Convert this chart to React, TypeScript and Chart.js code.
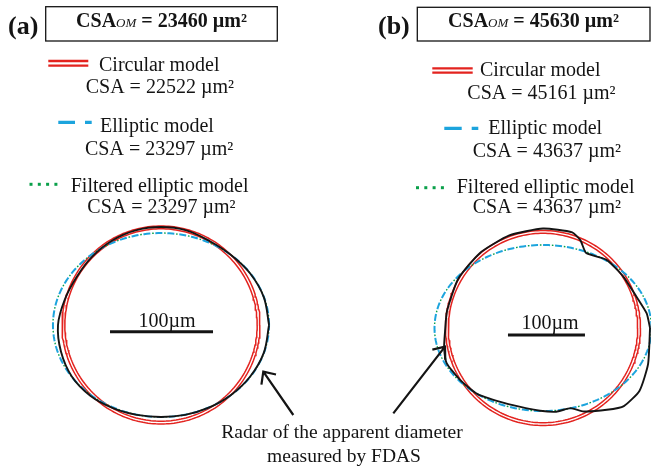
import React, { useEffect, useRef } from "react";
import { Chart, registerables } from "chart.js";
Chart.register(...registerables);

// ---------- DATA (µm, relative to each panel's model centre) ----------
const panelLabels = ["(a)", "(b)"];
const csaOM = [23460, 45630];
const circularCSA = [22522, 45161];
const ellipticCSA = [23297, 43637];
const filteredCSA = [23297, 43637];

const circleRadiusA = 96.1;
const ellipseRadiiA = [104.9, 89.3];
const fdasAnglesA = [0, 15, 30, 45, 60, 75, 90, 105, 120, 135, 150, 165, 180, 195, 210, 225, 240, 255, 270, 285, 300, 315, 330, 345];
const fdasRadiiA = [104.9, 103.4, 100.0, 96.1, 94.2, 95.1, 95.1, 95.1, 94.7, 94.2, 94.2, 96.6, 100.0, 100.5, 100.0, 97.1, 93.2, 90.3, 89.3, 90.3, 92.7, 96.1, 100.0, 103.4];

const circleRadiusB = 126.6;
const ellipseRadiiB = [140.9, 107.8];
const fdasAnglesB = [0, 8, 18, 33, 47, 60, 67, 73, 90, 110, 130, 150, 170, 182, 191, 200, 212, 225, 240, 254, 268, 279, 289, 296, 308, 316, 327, 341];
const fdasRadiiB = [139.0, 136.0, 128.3, 123.8, 121.0, 112.3, 124.0, 129.9, 129.2, 127.9, 127.3, 127.3, 126.6, 127.3, 130.8, 133.2, 127.1, 120.9, 110.8, 106.5, 107.5, 110.1, 110.0, 120.6, 134.8, 146.0, 149.5, 144.3];

const scaleBarUm = 100;
const scaleBarText = "100µm";
const annotationLines = ["Radar of the apparent diameter", "measured by FDAS"];

// ---------- LAYOUT ----------
const W = 651;
const H = 468;
const panels = [
  { ox: 161, oy: 325, k: 1.03, barX: 0.5, barY: -6.5, tension: 0.35 },
  { ox: 543, oy: 328, k: 0.77, barX: 4.5, barY: -9.1, tension: 0.18 },
];
const RED = "#e3231f";
const CYAN = "#1ca4dd";
const GREEN = "#0aa04a";
const BLACK = "#141414";
const SERIF = '"Liberation Serif", "DejaVu Serif", serif';

function circlePts(r: number, n = 240) {
  const pts = [];
  for (let i = 0; i <= n; i++) {
    const t = (i / n) * 2 * Math.PI;
    pts.push({ x: r * Math.cos(t), y: r * Math.sin(t) });
  }
  return pts;
}
function ellipsePts(rx: number, ry: number, n = 240) {
  const pts = [];
  for (let i = 0; i <= n; i++) {
    const t = (i / n) * 2 * Math.PI;
    pts.push({ x: rx * Math.cos(t), y: ry * Math.sin(t) });
  }
  return pts;
}
function polarPts(angles: number[], radii: number[]) {
  const pts = angles.map((a, i) => ({
    x: radii[i] * Math.cos((a * Math.PI) / 180),
    y: radii[i] * Math.sin((a * Math.PI) / 180),
  }));
  pts.push({ ...pts[0] });
  return pts;
}

function panelDatasets(p: number, r: number, e: number[], ang: number[], rad: number[]) {
  const xs = p === 0 ? "xa" : "xb";
  const ys = p === 0 ? "ya" : "yb";
  const k = panels[p].k;
  const common = { xAxisID: xs, yAxisID: ys, showLine: true, pointRadius: 0, fill: false };
  return [
    { ...common, data: polarPts(ang, rad), borderColor: BLACK, borderWidth: 1.9, tension: panels[p].tension, order: 0 },
    { ...common, data: ellipsePts(e[0], e[1]), borderColor: GREEN, borderWidth: 1.4, borderDash: [1.6, 10.4], borderDashOffset: -8.6, order: 1 },
    { ...common, data: ellipsePts(e[0], e[1]), borderColor: CYAN, borderWidth: 2, borderDash: [7, 5], order: 2 },
    { ...common, data: circlePts(r), borderColor: RED, borderWidth: 1.5, order: 3 },
    { ...common, data: circlePts(r - 2.8 / k), borderColor: RED, borderWidth: 1.5, order: 3 },
    {
      ...common,
      data: [
        { x: panels[p].barX - scaleBarUm / 2, y: panels[p].barY },
        { x: panels[p].barX + scaleBarUm / 2, y: panels[p].barY },
      ],
      borderColor: BLACK,
      borderWidth: 3,
      order: 0,
    },
  ];
}

function drawTitle(ctx: CanvasRenderingContext2D, cx: number, base: number, value: number) {
  const parts = [
    { t: "CSA", f: `bold 20px ${SERIF}` },
    { t: "OM", f: `italic 13px ${SERIF}` },
    { t: ` = ${value} µm²`, f: `bold 20px ${SERIF}` },
  ];
  let total = 0;
  const ws = parts.map((p) => {
    ctx.font = p.f;
    const w = ctx.measureText(p.t).width;
    total += w;
    return w;
  });
  let x = cx - total / 2;
  parts.forEach((p, i) => {
    ctx.font = p.f;
    ctx.fillText(p.t, x, base);
    x += ws[i];
  });
}

function arrow(ctx: CanvasRenderingContext2D, tx: number, ty: number, hx: number, hy: number, half: number) {
  ctx.beginPath();
  ctx.moveTo(tx, ty);
  ctx.lineTo(hx, hy);
  const a = Math.atan2(ty - hy, tx - hx);
  const L = 13;
  ctx.moveTo(hx + L * Math.cos(a - half), hy + L * Math.sin(a - half));
  ctx.lineTo(hx, hy);
  ctx.lineTo(hx + L * Math.cos(a + half), hy + L * Math.sin(a + half));
  ctx.stroke();
}

const textPlugin = {
  id: "figureText",
  afterDatasetsDraw(chart: any) {
    const ctx: CanvasRenderingContext2D = chart.ctx;
    ctx.save();
    ctx.fillStyle = BLACK;
    ctx.strokeStyle = BLACK;
    ctx.textBaseline = "alphabetic";
    ctx.textAlign = "left";

    // panel labels
    ctx.font = `bold 26px ${SERIF}`;
    ctx.fillText(panelLabels[0], 8, 34);
    ctx.fillText(panelLabels[1], 378, 34);

    // boxes
    ctx.lineWidth = 1.3;
    ctx.strokeRect(45.7, 6.7, 231.6, 34.3);
    ctx.strokeRect(417.3, 7.3, 232.7, 33.7);
    drawTitle(ctx, 161.5, 26.7, csaOM[0]);
    drawTitle(ctx, 533.5, 26.7, csaOM[1]);

    // legend glyphs
    const legend = [
      { red: [48.3, 88.3, 61, 65.7], cyan: [58.3, 75, 85, 91.7, 122.3], green: [29.5, 184.3] },
      { red: [432.3, 472.7, 68.3, 72.7], cyan: [444.3, 461.7, 471.7, 478.3, 128.3], green: [416, 187.7] },
    ];
    legend.forEach((g) => {
      ctx.strokeStyle = RED;
      ctx.lineWidth = 2.3;
      ctx.beginPath();
      ctx.moveTo(g.red[0], g.red[2]);
      ctx.lineTo(g.red[1], g.red[2]);
      ctx.moveTo(g.red[0], g.red[3]);
      ctx.lineTo(g.red[1], g.red[3]);
      ctx.stroke();
      ctx.strokeStyle = CYAN;
      ctx.lineWidth = 3.2;
      ctx.beginPath();
      ctx.moveTo(g.cyan[0], g.cyan[4]);
      ctx.lineTo(g.cyan[1], g.cyan[4]);
      ctx.moveTo(g.cyan[2], g.cyan[4]);
      ctx.lineTo(g.cyan[3], g.cyan[4]);
      ctx.stroke();
      ctx.fillStyle = GREEN;
      for (let i = 0; i < 4; i++) ctx.fillRect(g.green[0] + i * 8.3, g.green[1] - 1.5, 3, 3);
    });

    // legend texts
    ctx.fillStyle = BLACK;
    ctx.font = `20px ${SERIF}`;
    const lt: [string, number, number][] = [
      ["Circular model", 99, 70.7],
      [`CSA = ${circularCSA[0]} µm²`, 85.7, 93.3],
      ["Elliptic model", 100, 131.7],
      [`CSA = ${ellipticCSA[0]} µm²`, 85, 155],
      ["Filtered elliptic model", 70.7, 191.7],
      [`CSA = ${filteredCSA[0]} µm²`, 87.3, 213.3],
      ["Circular model", 480, 76],
      [`CSA = ${circularCSA[1]} µm²`, 467.3, 99.3],
      ["Elliptic model", 488.3, 134],
      [`CSA = ${ellipticCSA[1]} µm²`, 472.7, 156.7],
      ["Filtered elliptic model", 456.7, 193.3],
      [`CSA = ${filteredCSA[1]} µm²`, 472.7, 213.3],
    ];
    lt.forEach(([t, x, y]) => ctx.fillText(t, x, y));

    // scale bar labels
    ctx.textAlign = "center";
    ctx.font = `20px ${SERIF}`;
    ctx.fillText(scaleBarText, 167, 327);
    ctx.fillText(scaleBarText, 550, 329);

    // annotation
    ctx.font = `19.5px ${SERIF}`;
    ctx.fillText(annotationLines[0], 342, 438.3);
    ctx.fillText(annotationLines[1], 344, 461.7);

    ctx.strokeStyle = BLACK;
    ctx.lineWidth = 2.2;
    arrow(ctx, 293.3, 415, 263.3, 371.7, 0.75);
    arrow(ctx, 393.3, 413.3, 445, 346.7, 0.68);
    ctx.restore();
  },
};

export default function App() {
  const ref = useRef<HTMLCanvasElement>(null);
  useEffect(() => {
    if (!ref.current) return;
    const scales: any = {};
    panels.forEach((p, i) => {
      const xs = i === 0 ? "xa" : "xb";
      const ys = i === 0 ? "ya" : "yb";
      scales[xs] = { type: "linear", display: false, min: -p.ox / p.k, max: (W - p.ox) / p.k };
      scales[ys] = { type: "linear", display: false, min: -(H - p.oy) / p.k, max: p.oy / p.k };
    });
    const chart = new Chart(ref.current, {
      type: "scatter",
      data: {
        datasets: [
          ...panelDatasets(0, circleRadiusA, ellipseRadiiA, fdasAnglesA, fdasRadiiA),
          ...panelDatasets(1, circleRadiusB, ellipseRadiiB, fdasAnglesB, fdasRadiiB),
        ] as any,
      },
      options: {
        animation: false,
        responsive: false,
        events: [],
        layout: { padding: 0 },
        plugins: { legend: { display: false }, tooltip: { enabled: false }, title: { display: false } },
        scales,
      },
      plugins: [textPlugin],
    });
    return () => chart.destroy();
  }, []);
  return (
    <div style={{ position: "absolute", left: 0, top: 0, width: W, height: H, background: "#fff" }}>
      <canvas ref={ref} width={W} height={H} />
    </div>
  );
}
